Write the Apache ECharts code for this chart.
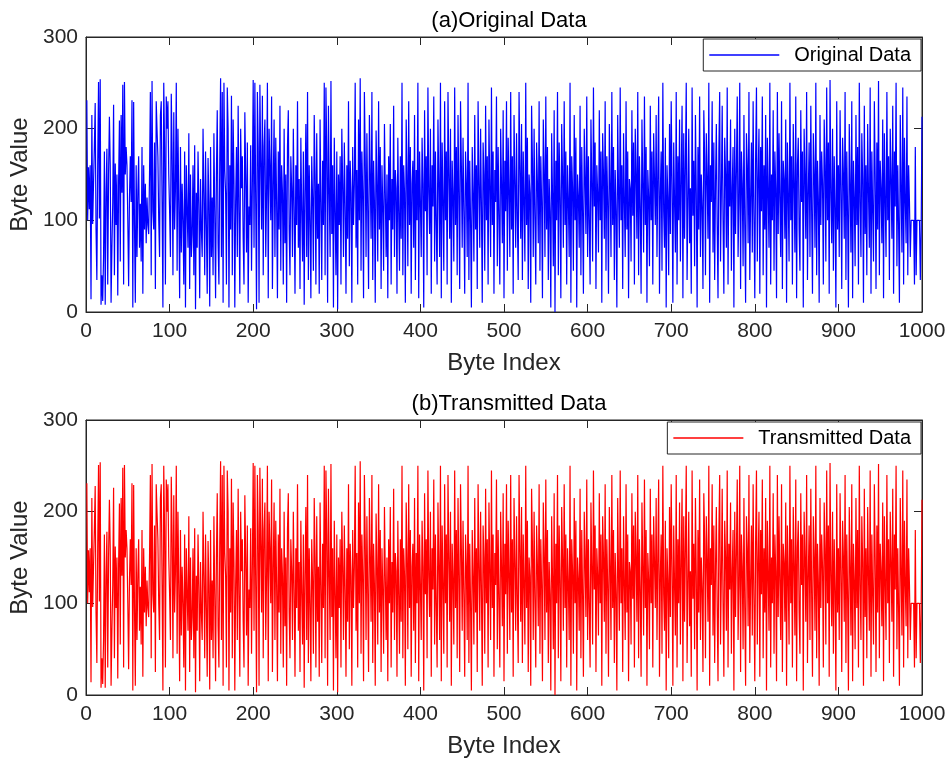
<!DOCTYPE html>
<html><head><meta charset="utf-8">
<script src="https://cdn.jsdelivr.net/npm/echarts@6/dist/echarts.min.js"></script>
<style>html,body{margin:0;padding:0;background:#fff}#c{width:949px;height:762px}</style>
</head><body><div id="c"></div>
<script>
// Byte values read (estimated) from the reference, indices 1..1000
const originalData = [
231,100,158,112,160,14,215,96,140,180,228,90,35,160,251,102,254,8,40,12,
60,175,8,130,178,30,150,213,160,10,70,120,226,40,162,95,150,18,142,209,
55,215,130,248,30,251,150,180,160,100,28,125,170,120,231,5,229,95,10,160,
60,130,170,70,118,55,180,20,160,90,140,75,125,95,85,150,240,40,252,110,
90,185,25,230,198,170,100,60,214,230,120,5,250,180,30,235,200,230,150,110,
60,238,175,40,218,90,135,250,45,200,120,15,180,65,140,100,30,175,5,160,
110,70,195,25,150,60,85,160,40,182,3,130,70,175,118,15,145,90,60,200,
130,40,175,95,20,168,120,6,180,60,125,40,195,110,15,150,220,75,30,165,
255,60,240,10,250,155,130,30,245,200,5,160,90,236,40,210,145,5,120,180,
60,225,110,20,200,135,170,80,30,218,150,65,185,10,115,95,182,45,140,253,
70,250,120,3,240,180,10,248,165,90,236,40,180,210,60,130,250,15,200,160,
100,235,25,140,210,60,190,120,15,175,90,225,45,160,130,30,200,75,150,10,
180,220,90,40,170,135,60,200,115,20,160,95,230,70,145,25,190,110,55,175,
8,130,205,60,240,35,160,100,15,170,125,45,215,150,30,195,80,140,20,210,
120,35,165,95,250,40,245,175,10,225,130,60,252,85,160,5,190,110,40,175,
3,150,95,170,30,200,140,60,185,115,20,160,80,230,50,165,130,10,180,95,
140,250,70,155,30,210,100,255,45,175,130,15,240,170,60,195,110,25,215,150,
80,240,35,165,120,10,198,140,55,230,90,180,25,160,115,45,205,130,60,150,
15,170,100,205,30,145,90,225,60,155,135,20,190,110,45,170,80,250,40,160,
130,10,210,150,50,230,95,180,20,140,165,70,215,35,155,100,250,15,175,120,
60,190,140,5,220,110,170,40,245,130,85,200,20,160,115,235,55,175,95,30,
210,140,60,250,15,185,120,45,230,100,175,30,240,150,80,200,10,165,125,55,
245,95,180,40,215,130,25,230,160,70,190,110,20,175,140,60,250,35,165,100,
5,180,130,55,215,90,160,25,230,140,70,200,115,10,185,150,45,225,100,170,
30,210,135,60,245,95,175,20,155,120,235,50,180,105,30,200,140,75,220,15,
165,110,230,45,190,130,60,240,90,170,20,215,145,70,195,100,35,240,160,80,
205,35,175,120,55,250,95,190,25,150,130,10,225,165,60,200,105,30,185,140,
75,230,45,170,120,15,210,155,60,235,90,180,35,145,110,5,195,130,50,220,
0,165,100,240,40,185,125,15,205,150,70,230,95,175,30,160,120,60,250,10,
170,135,45,215,100,190,5,150,125,70,225,40,180,110,20,200,145,85,235,60,
170,95,30,210,140,55,245,115,185,25,160,130,65,220,100,175,10,195,150,80,
230,45,170,120,20,205,140,60,240,95,180,35,155,110,5,215,130,70,245,100,
160,25,195,120,60,230,90,175,15,145,135,55,220,105,185,30,200,150,80,240,
40,170,115,20,210,140,65,235,95,180,10,155,125,50,225,100,175,30,195,145,
95,215,60,150,235,20,130,175,45,250,110,70,190,5,160,125,40,205,85,230,
140,10,185,120,65,240,30,170,100,210,55,145,225,15,195,80,160,250,35,120,
200,75,135,20,245,105,165,50,215,130,5,180,90,235,60,150,115,25,220,170,
40,195,145,80,250,10,160,120,230,65,185,35,140,205,95,15,175,240,55,130,
225,100,20,190,150,70,245,30,165,115,210,45,135,180,5,200,85,155,235,60,
120,250,25,175,140,50,215,95,10,195,160,75,240,35,125,185,65,230,105,15,
170,245,55,145,200,20,180,110,235,40,160,90,215,5,190,130,70,250,30,150,
100,220,45,175,135,15,240,85,195,120,60,230,25,165,145,80,210,10,185,125,
55,250,100,170,30,205,140,65,235,15,160,190,90,45,220,120,175,5,200,150,
80,240,35,130,185,60,225,110,20,195,150,70,250,40,165,125,10,215,95,175,
140,30,210,160,55,245,100,185,20,253,130,75,200,45,170,115,5,230,90,160,
60,220,135,25,190,150,80,240,35,175,110,5,205,140,65,230,15,165,125,50,
215,95,180,30,250,120,60,195,145,10,225,85,160,40,205,130,70,245,20,175,
110,55,230,150,25,185,90,252,40,165,135,75,210,15,195,120,60,240,100,170,
35,200,145,80,225,20,175,115,250,50,160,95,10,215,135,65,245,30,190,120,
75,235,40,160,120,60,100,100,100,100,30,180,40,100,100,100,100,35,90,213
];
// The transmitted data are identical to the original data in the reference
const transmittedData = originalData.slice();

const xTicks = { min: 0, max: 1000, interval: 100 };
const yTicks = { min: 0, max: 300, interval: 100 };
const titles = ['(a)Original Data', '(b)Transmitted Data'];
const seriesNames = ['Original Data', 'Transmitted Data'];
const colors = ['#0000FF', '#FF0000'];

const FONT = 'Liberation Sans, Arial, sans-serif';
const AX = '#262626';
const toPairs = arr => arr.map((v, i) => [i + 1, v]);

const grids = [
  { left: 86, top: 37, width: 836, height: 275 },
  { left: 86, top: 420, width: 836, height: 275 }
];

const xAxes = [], yAxes = [];
grids.forEach((g, gi) => {
  xAxes.push({
    gridIndex: gi, type: 'value', position: 'bottom', min: xTicks.min, max: xTicks.max, interval: xTicks.interval,
    name: 'Byte Index', nameLocation: 'middle', nameGap: 39,
    nameTextStyle: { fontSize: 24, color: AX, fontFamily: FONT },
    axisLine: { show: true, onZero: false, lineStyle: { color: AX, width: 1 } },
    axisTick: { show: true, inside: true, length: 8, lineStyle: { color: AX } },
    axisLabel: { fontSize: 21, color: AX, fontFamily: FONT, margin: 9, formatter: v => String(v) },
    splitLine: { show: false }
  });
  xAxes.push({
    gridIndex: gi, type: 'value', position: 'top', min: xTicks.min, max: xTicks.max, interval: xTicks.interval,
    axisLine: { show: true, onZero: false, lineStyle: { color: AX, width: 1 } },
    axisTick: { show: true, inside: true, length: 8, lineStyle: { color: AX } },
    axisLabel: { show: false }, splitLine: { show: false }
  });
  yAxes.push({
    gridIndex: gi, type: 'value', position: 'left', min: yTicks.min, max: yTicks.max, interval: yTicks.interval,
    name: 'Byte Value', nameLocation: 'middle', nameGap: 41,
    nameTextStyle: { fontSize: 24, color: AX, fontFamily: FONT },
    axisLine: { show: true, onZero: false, lineStyle: { color: AX, width: 1 } },
    axisTick: { show: true, inside: true, length: 8, lineStyle: { color: AX } },
    axisLabel: { fontSize: 21, color: AX, fontFamily: FONT, margin: 8 },
    splitLine: { show: false }
  });
  yAxes.push({
    gridIndex: gi, type: 'value', position: 'right', min: yTicks.min, max: yTicks.max, interval: yTicks.interval,
    axisLine: { show: true, onZero: false, lineStyle: { color: AX, width: 1 } },
    axisTick: { show: true, inside: true, length: 8, lineStyle: { color: AX } },
    axisLabel: { show: false }, splitLine: { show: false }
  });
});

const chart = echarts.init(document.getElementById('c'), null, { renderer: 'canvas' });
chart.setOption({
  animation: false,
  backgroundColor: '#fff',
  title: grids.map((g, i) => ({
    text: titles[i], left: g.left + g.width / 2, top: g.top - 32, textAlign: 'center',
    textStyle: { fontSize: 22, fontWeight: 'normal', color: '#000', fontFamily: FONT }
  })),
  legend: grids.map((g, i) => ({
    show: true,
    data: [{ name: seriesNames[i], icon: 'rect' }], right: 949 - g.left - g.width + 1, top: g.top + 2,
    backgroundColor: '#fff', borderColor: AX, borderWidth: 1, borderRadius: 0,
    padding: [6, 10, 6, 6], itemWidth: 70, itemHeight: 1.5,
    textStyle: { fontSize: 20, color: '#000', fontFamily: FONT, padding: [0, 0, 0, 10] }
  })),
  grid: grids.map(g => Object.assign({ show: true, borderColor: AX, borderWidth: 1, backgroundColor: 'transparent' }, g)),
  xAxis: xAxes,
  yAxis: yAxes,
  series: [
    { name: seriesNames[0], type: 'line', xAxisIndex: 0, yAxisIndex: 0, data: toPairs(originalData),
      showSymbol: false, symbol: 'none', lineStyle: { color: colors[0], width: 1.2 }, itemStyle: { color: colors[0] } },
    { name: seriesNames[1], type: 'line', xAxisIndex: 2, yAxisIndex: 2, data: toPairs(transmittedData),
      showSymbol: false, symbol: 'none', lineStyle: { color: colors[1], width: 1.2 }, itemStyle: { color: colors[1] } }
  ]
});
</script></body></html>
